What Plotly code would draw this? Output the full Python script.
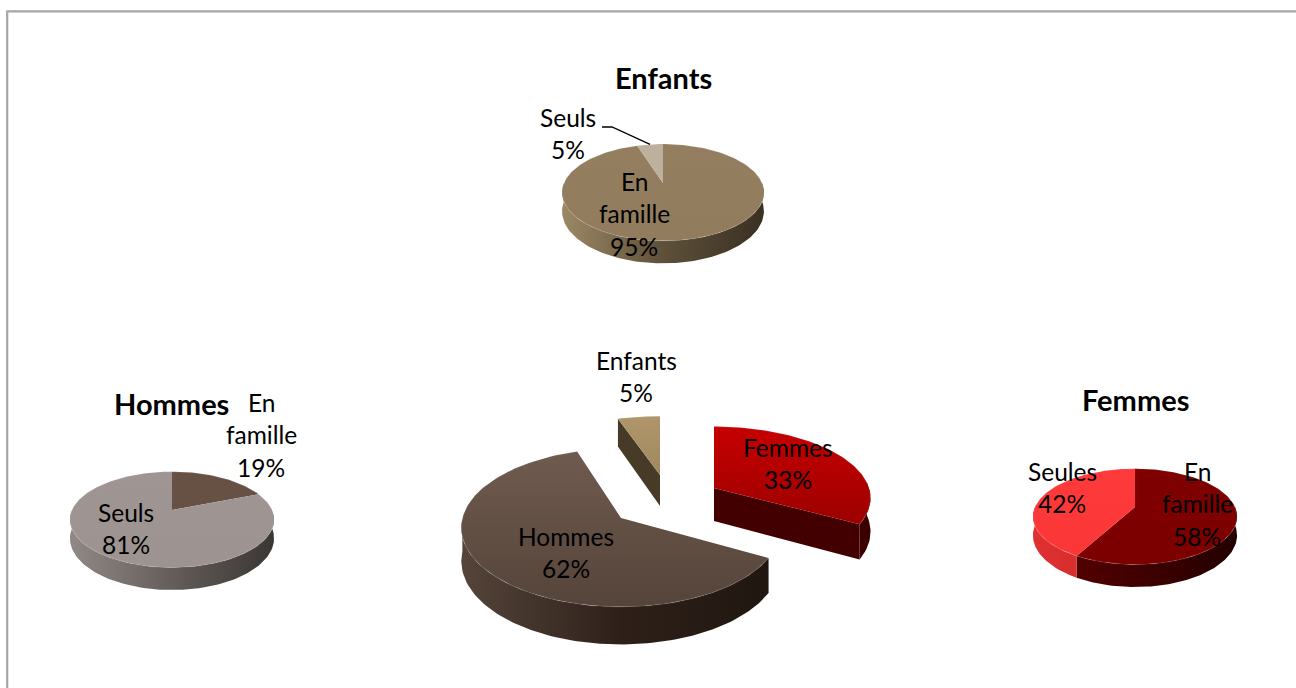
import math
import plotly.graph_objects as go

# Share of each group, in percent
main_names = ["Femmes", "Hommes", "Enfants"]
main_values = [33, 62, 5]
hommes_names = ["En famille", "Seuls"]
hommes_values = [19, 81]
femmes_names = ["En famille", "Seules"]
femmes_values = [58, 42]
enfants_names = ["En famille", "Seuls"]
enfants_values = [95, 5]

FONT = "Lato"
LABEL_SIZE = 24.5
TITLE_SIZE = 29
RIM = "rgba(255,255,255,0.07)"


def project(pie, turn, r=1.0):
    """Tilted-disc projection; turn runs clockwise from 12 o'clock, in degrees."""
    a = math.radians(turn)
    px, py = r * math.sin(a), r * math.cos(a)
    w = 1 + pie["k"] * py
    return pie["cx"] + pie["rx"] * px / w, pie["cy"] - pie["ry"] * py / w, w


def turns(start, end, step=1.5):
    n = max(2, int(abs(end - start) / step) + 1)
    return [start + (end - start) * i / (n - 1) for i in range(n)]


def polygon(fig, xs, ys, grad=None, color=None):
    kw = dict(x=xs, y=ys, mode="lines", fill="toself", line=dict(width=0),
              hoverinfo="skip", showlegend=False)
    if grad:
        kind, start, stop, c0, c1, *rest = grad
        scale = [[0, c0], [1, c1]] if not rest else [[0, c0], [0.5, c1], [1, rest[0]]]
        kw["fillgradient"] = dict(type=kind, start=start, stop=stop, colorscale=scale)
    else:
        kw["fillcolor"] = color
    fig.add_trace(go.Scatter(**kw))


def draw_slice(fig, pie, start, end, top, side, inner=None):
    """One wedge: outer wall, cut walls when visible, then the top face."""
    d = pie["depth"]
    arc = turns(start, end)
    # outer wall: only the near half of the rim faces the viewer
    front = [t for t in arc if 90 <= t % 360 <= 270 or
             (pie["wall_from"] <= t % 360 <= pie["wall_to"])]
    if len(front) > 1:
        pts = [project(pie, t) for t in front]
        xs = [p[0] for p in pts] + [p[0] for p in reversed(pts)]
        ys = [p[1] for p in pts] + [p[1] + d / p[2] for p in reversed(pts)]
        xmin, xmax = pie["cx"] - pie["rx"], pie["cx"] + pie["rx"]
        polygon(fig, xs + xs[:1], ys + ys[:1],
                grad=("horizontal", xmin, xmax, *side))
    # cut wall on the edge facing the gap
    if inner is not None:
        t = inner["turn"]
        ox, oy, ow = project(pie, t)
        ax, ay, aw = project(pie, 0, 0)
        polygon(fig, [ax, ox, ox, ax, ax], [ay, oy, oy + d / ow, ay + d / aw, ay],
                color=inner["color"])
    # top face
    pts = [project(pie, t) for t in arc]
    ax, ay, _ = project(pie, 0, 0)
    xs = [ax] + [p[0] for p in pts] + [ax]
    ys = [ay] + [p[1] for p in pts] + [ay]
    ymin, ymax = pie["cy"] - pie["ry"] * 0.9, pie["cy"] + pie["ry"] * 1.15
    polygon(fig, xs, ys, grad=("vertical", ymin, ymax, top[0], top[1]))
    # thin bevel along the rim
    fig.add_trace(go.Scatter(x=[p[0] for p in pts], y=[p[1] for p in pts], mode="lines",
                             line=dict(color=pie["rim"], width=1.5),
                             hoverinfo="skip", showlegend=False))


def draw_pie(fig, pie, values, styles):
    angle = 0.0
    for value, style in zip(values, styles):
        end = angle + value * 3.6
        draw_slice(fig, pie, angle, end, style["top"], style["side"])
        angle = end


def put_lines(fig, x, y, lines, size=LABEL_SIZE, step=32.5, bold=False):
    for i, line in enumerate(lines):
        text = f"<b>{line}</b>" if bold else line
        fig.add_annotation(x=x, y=y - 2 + i * step, text=text, showarrow=False,
                           xanchor="center", yanchor="middle",
                           font=dict(family=FONT, size=size, color="#000000"))


fig = go.Figure()

# Central pie with pulled-out slices
base = dict(k=0.122, rim=RIM, wall_from=0, wall_to=0)
m_fem = dict(base, cx=714, cy=488, rx=155, ry=70, k=0.14, depth=33, wall_from=85, wall_to=120)
m_hom = dict(base, cx=621, cy=518, rx=158.5, ry=78, depth=33)
m_enf = dict(base, cx=660, cy=475, rx=152, ry=66, depth=31)

a0 = main_values[0] * 3.6
a1 = a0 + main_values[1] * 3.6
draw_slice(fig, m_hom, a0, a1, ("#705b4f", "#55443a"), ("#54443a", "#2e2019", "#1f1610"))
draw_slice(fig, m_enf, a1, 360, ("#b0966a", "#8a7650"), ("#4a3d29", "#3f3422"),
           inner=dict(turn=a1, color="#473a27"))
draw_slice(fig, m_fem, 0, a0, ("#c60000", "#8a0000"), ("#4c0000", "#3a0000"),
           inner=dict(turn=a0, color="#430000"))

# Three small pies
p_enf = dict(cx=663, cy=183, rx=99, ry=46.6, k=0.196, depth=18,
             rim=RIM, wall_from=0, wall_to=0)
p_hom = dict(cx=172, cy=510, rx=100, ry=46, k=0.2, depth=18,
             rim=RIM, wall_from=0, wall_to=0)
p_fem = dict(cx=1135, cy=507, rx=100, ry=46, k=0.2, depth=18,
             rim=RIM, wall_from=0, wall_to=0)

draw_pie(fig, p_enf, enfants_values,
         [dict(top=("#937f60", "#917d5d"), side=("#9a8763", "#5e5039", "#3a3024")),
          dict(top=("#bdb09c", "#bdb09c"), side=("#bdb09c", "#bdb09c"))])
draw_pie(fig, p_hom, hommes_values,
         [dict(top=("#665144", "#665144"), side=("#4f3f35", "#2e2019")),
          dict(top=("#9f9693", "#9d9491"), side=("#908885", "#645d5a", "#3b3734"))])
draw_pie(fig, p_fem, femmes_values,
         [dict(top=("#800000", "#7c0000"), side=("#5c0000", "#420000", "#240000")),
          dict(top=("#ff3a3a", "#fb3636"), side=("#e03030", "#b82626"))])

# Leader line from the small "Seuls" slice to its label
lx, ly, _ = project(p_enf, 351)
fig.add_trace(go.Scatter(x=[602, 612, lx], y=[127, 127, ly], mode="lines",
                         line=dict(color="#000000", width=1.3),
                         hoverinfo="skip", showlegend=False))


# Slice labels, built from the values above
def lab(name, value):
    return name.split(" ") + [f"{value}%"]


put_lines(fig, 636, 362, lab(main_names[2], main_values[2]))
put_lines(fig, 788, 449, lab(main_names[0], main_values[0]))
put_lines(fig, 566, 538, lab(main_names[1], main_values[1]))
put_lines(fig, 568, 119, lab(enfants_names[1], enfants_values[1]))
put_lines(fig, 634, 183, lab(enfants_names[0], enfants_values[0]))
put_lines(fig, 261, 404, lab(hommes_names[0], hommes_values[0]))
put_lines(fig, 126, 514, lab(hommes_names[1], hommes_values[1]))
put_lines(fig, 1062, 473, lab(femmes_names[1], femmes_values[1]))
put_lines(fig, 1197, 473, lab(femmes_names[0], femmes_values[0]))

# Pie titles
put_lines(fig, 663, 79, ["Enfants"], size=TITLE_SIZE, bold=True)
put_lines(fig, 171, 405, ["Hommes"], size=TITLE_SIZE, bold=True)
put_lines(fig, 1135, 401, ["Femmes"], size=TITLE_SIZE, bold=True)

axis = dict(visible=False, fixedrange=True)
fig.update_layout(
    width=1296, height=688, autosize=False,
    margin=dict(l=0, r=0, t=0, b=0),
    paper_bgcolor="#ffffff", plot_bgcolor="#ffffff",
    xaxis=dict(axis, range=[0, 1296]),
    yaxis=dict(axis, range=[688, 0]),
    showlegend=False,
    # the frame runs off the right and bottom of the page
    shapes=[dict(type="rect", xref="x", yref="y", x0=7.2, y0=11.3, x1=1320, y1=720,
                 line=dict(color="#a6a6a6", width=2.2), layer="below")],
)

fig.write_html("out.html", config=dict(displayModeBar=False))
